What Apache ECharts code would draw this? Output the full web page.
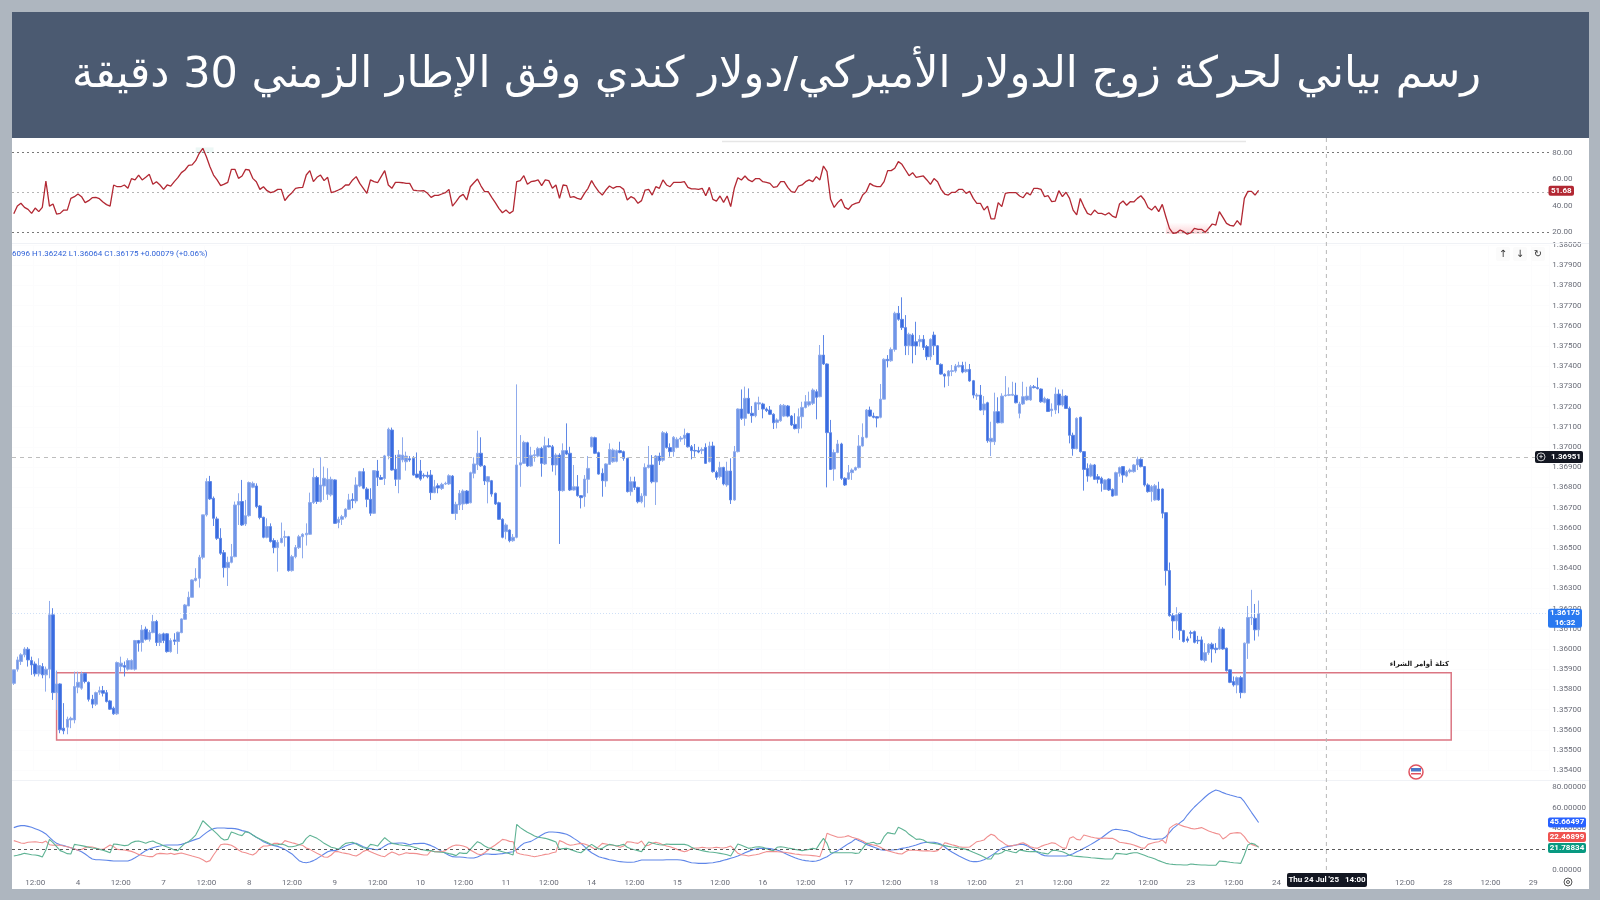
<!DOCTYPE html>
<html lang="ar">
<head>
<meta charset="utf-8">
<script src="https://cdn.jsdelivr.net/npm/echarts@6/dist/echarts.min.js"></script>
<style>
html, body { margin: 0; padding: 0; background: #aeb6bf; }
#paper { position: absolute; left: 12px; top: 12px; width: 1577px; height: 877px; background: #fff; }
#chart { position: absolute; left: 0; top: 0; width: 1600px; height: 900px; }
</style>
</head>
<body>
<div id="paper"></div>
<div id="chart"></div>
<script>
const titleText = 'رسم بياني لحركة زوج الدولار الأميركي/دولار كندي وفق الإطار الزمني 30 دقيقة';
const zoneLabel = 'كتلة أوامر الشراء';
const ohlcLegend = '6096 H1.36242 L1.36064 C1.36175 +0.00079 (+0.06%)';

// every 12th bar has a label on the time axis, the first one on bar 6
const timeTicks = ['12:00','4','12:00','7','12:00','8','12:00','9','12:00','10','12:00','11','12:00','14','12:00','15','12:00','16','12:00','17','12:00','18','12:00','21','12:00','22','12:00','23','12:00','24','12:00','25','12:00','28','12:00','29'];
const barCount = 431;

const lastPrice = 1.36175;
const cursorPrice = 1.36951;
const cursorBar = 368;
const zoneTop = 1.35883;
const zoneBottom = 1.3555;
const zoneFirstBar = 12;
const zoneLastBar = 403;

// [open, close, low, high]
const candlesA = [
[1.3583,1.35897,1.35822,1.35897],[1.359,1.35946,1.35888,1.35962],[1.35938,1.35971,1.35921,1.35979],[1.35971,1.36,1.35959,1.36009],[1.35999,1.35946,1.35913,1.36009],
[1.35943,1.35921,1.35872,1.35962],[1.35926,1.35877,1.35864,1.35938],[1.35877,1.35918,1.35864,1.35954],[1.35913,1.35872,1.35855,1.3593],[1.35872,1.359,1.35789,1.35913],
[1.359,1.36169,1.35855,1.36238],[1.36169,1.35784,1.35748,1.36202],[1.35784,1.35827,1.35698,1.35893],[1.35827,1.356,1.35583,1.3583],[1.35608,1.35595,1.35578,1.35732],
[1.35613,1.35652,1.35578,1.35665],[1.35649,1.35657,1.35608,1.35665],[1.35649,1.35814,1.35632,1.35888],[1.35811,1.35835,1.35781,1.35888],[1.35806,1.35877,1.35798,1.35888],
[1.3588,1.35839,1.3583,1.35883],[1.35835,1.35751,1.3574,1.35839],[1.35751,1.35727,1.35707,1.35773],[1.35727,1.35784,1.35718,1.35789],[1.35786,1.35794,1.35773,1.35814],
[1.35794,1.35781,1.35765,1.35817],[1.35784,1.3574,1.35735,1.35797],[1.35743,1.35702,1.35698,1.35748],[1.35707,1.35679,1.35674,1.35715],[1.35679,1.35933,1.35674,1.35938],
[1.35913,1.3593,1.35888,1.35962],[1.35918,1.3591,1.35864,1.35938],[1.359,1.35943,1.35893,1.35954],[1.359,1.35943,1.35897,1.35949],[1.359,1.36042,1.35893,1.36045],
[1.36042,1.36029,1.35987,1.36045],[1.36032,1.36094,1.35987,1.36119],[1.36098,1.36048,1.36042,1.36111],[1.36048,1.36083,1.36037,1.36094],[1.36081,1.36136,1.36078,1.36169],
[1.36136,1.36032,1.36015,1.36144],[1.36032,1.36073,1.36015,1.36078],[1.36075,1.36042,1.36029,1.36081],[1.36075,1.35987,1.35982,1.36078],[1.35987,1.36042,1.35982,1.36053],
[1.36045,1.36038,1.3602,1.36078],[1.36037,1.36083,1.35976,1.36086],[1.36081,1.36149,1.36078,1.36152],[1.36147,1.36218,1.36144,1.36223],[1.36213,1.36256,1.36213,1.36284],
[1.36256,1.36342,1.36256,1.36345],[1.36339,1.3635,1.36334,1.364],[1.3635,1.36454,1.36304,1.36466],[1.36454,1.36664,1.36444,1.36664],[1.36664,1.36829,1.36656,1.36845],
[1.36829,1.36743,1.36738,1.36857],[1.36746,1.36647,1.36609,1.36755],[1.36644,1.36548,1.3654,1.36655],[1.36548,1.36474,1.36466,1.36598],[1.36477,1.36403,1.36354,1.3649],
[1.36403,1.36429,1.36312,1.36457],[1.36429,1.36457,1.36424,1.3652],[1.36457,1.36713,1.36454,1.3673],[1.36713,1.3673,1.36614,1.36771],[1.3673,1.36614,1.36609,1.36837],
[1.36619,1.3666,1.36609,1.36738],[1.3666,1.36824,1.36655,1.36829],[1.36801,1.3682,1.36796,1.36829],[1.36807,1.36705,1.36697,1.3682],[1.36708,1.36651,1.36642,1.36713],
[1.36652,1.36553,1.36548,1.36655],[1.36553,1.36606,1.36548,1.36647],[1.36606,1.36532,1.36527,1.36622],[1.36537,1.36502,1.36474,1.36548],[1.36502,1.36528,1.36383,1.3654],
[1.36527,1.36548,1.36523,1.36626],[1.36553,1.36556,1.36507,1.36586],[1.36556,1.36388,1.36383,1.3656],[1.36388,1.36457,1.36383,1.36466],[1.36457,1.36502,1.36449,1.36515],
[1.36502,1.36556,1.36495,1.36565],[1.36556,1.36568,1.36449,1.36573],[1.36565,1.36573,1.36512,1.36622],[1.36568,1.36725,1.36565,1.36774],[1.36725,1.3685,1.36718,1.36895],
[1.36849,1.3673,1.36718,1.36857],[1.3673,1.36812,1.36725,1.36949],[1.36807,1.36845,1.36738,1.36903],[1.36766,1.3684,1.36738,1.36895],[1.36763,1.3684,1.36755,1.36853],
[1.36837,1.36622,1.36619,1.3684],[1.36626,1.36642,1.36598,1.36655],[1.36642,1.36655,1.36614,1.36664],[1.36655,1.36692,1.36647,1.36697],[1.36692,1.36738,1.36688,1.36768],
[1.36741,1.36735,1.36697,1.36771],[1.36733,1.36812,1.36721,1.3685],[1.36807,1.36878,1.36801,1.36882],[1.36878,1.36796,1.36791,1.36895],[1.36792,1.36741,1.36702,1.36801],
[1.36741,1.36672,1.36659,1.36796],[1.36672,1.36883,1.36669,1.36886],[1.36881,1.3685,1.36807,1.36936],[1.36849,1.3684,1.36837,1.36862],[1.36844,1.36956,1.36812,1.36961],
[1.36956,1.37088,1.36939,1.37096],[1.37084,1.36886,1.36883,1.37096],[1.3689,1.3684,1.36807,1.36961],[1.3684,1.36961,1.36771,1.36985]
];
const candlesB = [
[1.36936,1.3696,1.36924,1.37048],[1.36927,1.36955,1.36883,1.36977],[1.36942,1.36936,1.36927,1.36955],[1.36944,1.36861,1.36858,1.36955],[1.36866,1.3685,1.36845,1.36973],
[1.36881,1.36841,1.36833,1.36936],[1.3686,1.36856,1.36845,1.3687],[1.3686,1.36853,1.36845,1.36878],[1.36861,1.36774,1.36738,1.36886],[1.36774,1.36803,1.36771,1.36837],
[1.36808,1.36797,1.36771,1.3682],[1.36795,1.36815,1.36787,1.36823],[1.36817,1.3682,1.36812,1.36828],[1.36817,1.36858,1.36812,1.36865],[1.36856,1.36671,1.36668,1.36861],
[1.36671,1.36716,1.36639,1.36729],[1.36713,1.36771,1.36688,1.36787],[1.36718,1.36782,1.36688,1.3679],[1.36782,1.36721,1.36716,1.36787],[1.36724,1.36873,1.36721,1.36878],
[1.3687,1.36916,1.36845,1.36949],[1.36912,1.36969,1.36886,1.37081],[1.36969,1.36907,1.36902,1.37048],[1.36906,1.36832,1.36812,1.36911],[1.36828,1.36853,1.36721,1.36856],
[1.36833,1.36767,1.36754,1.36837],[1.36771,1.36718,1.36713,1.36774],[1.36724,1.36642,1.36639,1.36729],[1.36642,1.36553,1.36548,1.36647],[1.36581,1.36614,1.36543,1.36622],
[1.36589,1.36536,1.36528,1.36592],[1.36536,1.36553,1.36531,1.36569],[1.36553,1.36911,1.36548,1.3731],[1.36911,1.36922,1.36803,1.37059],[1.36919,1.37023,1.36916,1.37031],
[1.37021,1.36906,1.36902,1.37026],[1.36906,1.36959,1.36902,1.37001],[1.36957,1.36962,1.36927,1.36985],[1.36955,1.36993,1.36949,1.37001],[1.36993,1.36919,1.36853,1.37001],
[1.36916,1.37006,1.36911,1.37051],[1.37006,1.37001,1.36998,1.37043],[1.37001,1.36911,1.36878,1.3701],[1.36911,1.3696,1.3686,1.36969],[1.3696,1.36784,1.3652,1.36969],
[1.36784,1.36982,1.36779,1.37018],[1.36982,1.36965,1.3696,1.37117],[1.36969,1.36787,1.36782,1.37001],[1.36787,1.36803,1.36784,1.36911],[1.36803,1.36759,1.36754,1.36861],
[1.36759,1.36749,1.36696,1.36762],[1.36754,1.36841,1.36704,1.36861],[1.3684,1.36894,1.36771,1.36955],[1.37001,1.37048,1.36998,1.37051],[1.37046,1.36969,1.36965,1.37051],
[1.36972,1.36866,1.36863,1.36977],[1.3687,1.36833,1.36754,1.36894],[1.36832,1.36916,1.36803,1.36919],[1.36914,1.36988,1.36911,1.37018],[1.36927,1.36985,1.36922,1.36993],
[1.36929,1.36982,1.36924,1.36988],[1.36982,1.36972,1.36969,1.37026],[1.36977,1.36944,1.36932,1.36982],[1.36944,1.36779,1.36775,1.36947],[1.36779,1.36828,1.36759,1.36853],
[1.36828,1.368,1.36787,1.36853],[1.368,1.36729,1.36721,1.36803],[1.36729,1.36757,1.36721,1.36771],[1.36759,1.36899,1.36701,1.36919],[1.36898,1.36911,1.36894,1.37005],
[1.36911,1.36828,1.3682,1.3696],[1.36827,1.36955,1.36713,1.3696],[1.36955,1.36932,1.36911,1.36972],[1.36935,1.37071,1.36927,1.37079],[1.37067,1.36997,1.36992,1.37076],
[1.36997,1.36977,1.36952,1.37018],[1.36977,1.37048,1.36952,1.37054],[1.36998,1.37038,1.36993,1.37048],[1.37039,1.37044,1.37026,1.37054],[1.37043,1.37059,1.3701,1.37091],
[1.37067,1.37001,1.36997,1.37071],[1.37001,1.36982,1.36939,1.3701],[1.36983,1.3698,1.36952,1.37015],[1.36982,1.36975,1.36969,1.37001],[1.36982,1.36988,1.36965,1.36998],
[1.36998,1.36919,1.36916,1.37018],[1.36927,1.37005,1.36924,1.37026],[1.37005,1.36878,1.36873,1.37026],[1.36874,1.3685,1.36837,1.36883],[1.36853,1.36899,1.36845,1.36927],
[1.36899,1.36817,1.3681,1.36902],[1.36812,1.36881,1.36803,1.36927],[1.36881,1.36738,1.36718,1.36944],[1.36738,1.36977,1.36734,1.37005],[1.36977,1.37188,1.36973,1.37191],
[1.37188,1.37142,1.37134,1.37285],[1.37142,1.37241,1.37105,1.37299],[1.37241,1.37167,1.37163,1.3729],[1.37167,1.37155,1.3712,1.37203],[1.37155,1.37219,1.37147,1.37224],
[1.37213,1.37219,1.37183,1.37249],[1.37213,1.37188,1.37142,1.37219],[1.37188,1.3718,1.37173,1.37196],[1.37183,1.37162,1.37158,1.37203],[1.37162,1.3712,1.37089,1.37167],
[1.37122,1.37134,1.37092,1.37142],[1.3713,1.37206,1.37125,1.37213],[1.37153,1.37206,1.37148,1.37213],[1.37203,1.37153,1.37147,1.37208],[1.37153,1.37109,1.37104,1.37158],
[1.37112,1.37091,1.37087,1.37167],[1.37091,1.3715,1.37068,1.37191]
];
const candlesC = [
[1.3715,1.37196,1.37092,1.37224],[1.37196,1.37224,1.37191,1.37257],[1.37208,1.37224,1.372,1.37274],[1.37216,1.37282,1.37208,1.3729],[1.37274,1.37246,1.37137,1.37285],
[1.37249,1.37455,1.37246,1.37505],[1.37455,1.37411,1.37406,1.37554],[1.37411,1.37071,1.368,1.37414],[1.37071,1.36889,1.36886,1.37134],[1.36891,1.36973,1.36833,1.36988],
[1.36973,1.37015,1.36969,1.37035],[1.37015,1.36845,1.36837,1.37021],[1.36845,1.36812,1.36807,1.3685],[1.36841,1.36873,1.36837,1.36911],[1.36873,1.36886,1.36837,1.36894],
[1.36886,1.36898,1.36883,1.36903],[1.36898,1.37005,1.36894,1.37059],[1.37005,1.37048,1.37002,1.37117],[1.37048,1.37183,1.37043,1.37188],[1.37183,1.37153,1.3715,1.372],
[1.37153,1.37147,1.37142,1.3717],[1.3715,1.37143,1.37097,1.37153],[1.37147,1.37237,1.37142,1.37312],[1.37237,1.37434,1.37236,1.37439],[1.37434,1.37427,1.37394,1.37455],
[1.37427,1.37483,1.37422,1.37493],[1.37483,1.37662,1.37472,1.3767],[1.37662,1.37632,1.37625,1.37698],[1.37632,1.37591,1.37579,1.37741],[1.37591,1.37501,1.37455,1.37653],
[1.37501,1.37558,1.37455,1.37566],[1.37554,1.375,1.37414,1.37563],[1.37521,1.375,1.37455,1.3762],[1.37521,1.37533,1.37497,1.37554],[1.37533,1.37493,1.3748,1.37554],
[1.37497,1.37447,1.3743,1.37505],[1.37447,1.37533,1.3743,1.37538],[1.37554,1.37501,1.37455,1.37571],[1.37501,1.37409,1.37406,1.37505],[1.37409,1.37361,1.37358,1.37414],
[1.3736,1.37351,1.37295,1.37365],[1.37351,1.37376,1.37302,1.37381],[1.37374,1.37378,1.37351,1.37406],[1.37376,1.37401,1.37368,1.37411],[1.37397,1.37404,1.37394,1.37422],
[1.37404,1.37371,1.37365,1.37422],[1.37373,1.37384,1.37368,1.37422],[1.37384,1.37327,1.37323,1.37411],[1.37328,1.37257,1.37241,1.37332],[1.37252,1.37257,1.37233,1.37266],
[1.37257,1.37183,1.3718,1.37307],[1.37183,1.37213,1.37158,1.37252],[1.37219,1.37031,1.37021,1.37224],[1.37026,1.37043,1.36955,1.37125],[1.37026,1.37175,1.3701,1.37269],
[1.37175,1.3712,1.37117,1.37246],[1.3712,1.37252,1.37117,1.37266],[1.37254,1.37257,1.37249,1.37351],[1.37256,1.37259,1.37252,1.37295],[1.37256,1.37261,1.37252,1.37323],
[1.37256,1.37219,1.37216,1.37318],[1.37167,1.37213,1.37142,1.37224],[1.37213,1.37249,1.37208,1.37323],[1.37233,1.37252,1.37229,1.37298],[1.37233,1.37298,1.37229,1.37307],
[1.37298,1.37294,1.3729,1.37307],[1.37294,1.37289,1.37285,1.37343],[1.37287,1.37224,1.37219,1.3729],[1.37221,1.37241,1.37216,1.37249],[1.37236,1.37176,1.37173,1.37241],
[1.3718,1.37188,1.3715,1.37216],[1.37183,1.37262,1.37163,1.37295],[1.37262,1.37208,1.37167,1.37285],[1.37208,1.37252,1.372,1.37285],[1.37252,1.37191,1.37188,1.37257],
[1.37191,1.37058,1.37018,1.372],[1.37058,1.36992,1.36957,1.37071],[1.36992,1.37142,1.36988,1.37147],[1.37147,1.36977,1.36972,1.3715],[1.36977,1.36889,1.36784,1.3698],
[1.36894,1.36856,1.36828,1.36919],[1.36856,1.36911,1.3685,1.36919],[1.36911,1.3684,1.36837,1.36916],[1.36853,1.3684,1.3682,1.36866],[1.36845,1.3682,1.36779,1.36853],
[1.3679,1.36837,1.36787,1.3684],[1.36841,1.36787,1.36782,1.36845],[1.3679,1.36757,1.36754,1.36795],[1.36761,1.36873,1.36757,1.36878],[1.3687,1.36898,1.36853,1.36903],
[1.36903,1.36861,1.36823,1.36906],[1.36856,1.36878,1.3685,1.36886],[1.36878,1.36886,1.3687,1.36894],[1.36878,1.36911,1.36873,1.36916],[1.36911,1.36939,1.36886,1.36952],
[1.36939,1.36903,1.36899,1.36944],[1.36903,1.36812,1.36804,1.36906],[1.36812,1.36779,1.36774,1.3682],[1.36779,1.36804,1.36729,1.36812],[1.36738,1.36808,1.36734,1.36817],
[1.36792,1.36738,1.36734,1.36828],[1.36792,1.36672,1.36647,1.36795]
];
const candlesD = [
[1.36675,1.36388,1.36314,1.36675],[1.36388,1.36165,1.3616,1.36428],[1.36165,1.36139,1.36053,1.36177],[1.36139,1.36169,1.36095,1.36207],[1.36177,1.36091,1.36045,1.3618],
[1.36091,1.36037,1.36032,1.36095],[1.3605,1.36042,1.36032,1.36062],[1.36081,1.36078,1.36053,1.36091],[1.36086,1.36033,1.36028,1.36091],[1.36043,1.3604,1.36025,1.36065],
[1.36045,1.35946,1.35943,1.36062],[1.35943,1.35982,1.35934,1.36029],[1.35982,1.36024,1.35971,1.36029],[1.36024,1.36,1.35933,1.36032],[1.36004,1.35997,1.35979,1.36029],
[1.36,1.36099,1.35996,1.36111],[1.36099,1.36,1.35996,1.36108],[1.36004,1.35893,1.35888,1.36007],[1.35897,1.35835,1.35831,1.359],[1.35839,1.35822,1.35814,1.35864],
[1.35822,1.35858,1.35781,1.35864],[1.35858,1.35784,1.35756,1.35867],[1.35784,1.36029,1.35781,1.36032],[1.36029,1.36156,1.35951,1.36213],[1.36154,1.36157,1.36119,1.36293],
[1.36152,1.36095,1.36042,1.36223],[1.36095,1.36175,1.36062,1.3624]
];

const rsiA = [34,39.8,41.9,38.8,37.3,34.3,38.3,35.6,38.8,58.7,39.8,41.4,33.8,34.3,36.8,36.8,45.6,46.9,48.9,46.9,42.4,43.9,46.1,46.4,45.4,42.9,40.9,39.8,55.7,54.4,54.4,55.7,53.2,60.5,59.5,63.2,59.5,61.5,63.7,56.2,58.2,55.7,52.4,55.7,54.9,58.2,61.2,65,67,70.5,70.8,74,79.6,83.3,77,69.5,63.2,59.5,55.2,56.4,57.7,67.5,67.5,60.7,62.5,67.5,67,60.7,58.2,52.4,54.4,51.4,49.9,50.7,52.4,52.4,43.9,47.4,49.9,53.2,53.7,53.9,63.2,66.5,58.2,61.5,63.2,59,61.5,49.9,50.7,51.9,53.2,55.7,55.7,59.5,62,56.9,53.2,49.4,59.5,58.2,57.4,62,66.5,55.7,53.2,57.7,57.7,57.4,56.9,56.9,51.9,51.4,51.2,51.4,49.4,46.4,47.9,47.9,48.9,49.9,52.4,39.8,43.1,46.9,48.6,44.4,54.4,57.4,60.2,54.9,50.7,50.7,46.4,42.4,38.1,34.8,36.8,34.3,36.1,58.2,59,62.7,56.2,58.2,58.7,59.5,55.2,59.5,59,53.2,55.7,45.6,55.7,55.2,46.4,46.9,45.6,44.9,49.4,53.2,59,54.4,50.7,48.1,51.9,54.9,53.2,54.4,54.4,52.4,44.4,46.9,45.6,41.9,43.9,51.9,52.4,48.1,54.4,53.2,59.5,55.7,54.4,57.7,57.7,57.7,58.2,53.9,52.7,52.7,52.4,53.2,47.6,53.9,44.9,43.6,47.4,42.6,47.4,39.4,53.2,61.2,59.5,62.5,59.5,58.2,60.5,60.5,58.2,57.7,56.9,53.9,54.4,58.2,58.2,53.9,50.7,50.2,54.9];
const rsiB = [55.7,58.2,59.5,58.2,62,59.5,70,65.7,44.9,38.8,42.4,44.9,38.8,37.3,40.6,41.9,42.6,48.1,50.7,56.9,55.2,54.4,54.4,58.2,66.5,66.5,68.3,73.3,71.3,67,62.7,65,61.5,62,62.5,59.5,56.2,60.5,58.2,52.4,48.9,48.1,50.2,50.2,52.4,52.4,49.4,50.9,45.6,41.9,41.9,36.8,39.8,30.1,30.1,42.4,39.4,49.4,49.9,49.9,49.9,47.4,46.1,49.9,48.1,53.2,53.2,52.4,46.9,47.6,43.1,43.6,51.4,46.9,50.2,45.6,36.8,33.1,45.6,39.4,34.3,33.1,36.8,34.3,34.3,33.1,34.8,32.3,31.1,41.4,43.6,40.4,43.1,42.9,45.6,47.6,44.4,38.8,36.8,39.8,35.6,41.1,31.8,23,19.2,19.7,21.8,20.5,18.7,19.7,23,22.3,22.3,20,23,26.3,25.5,35.6,31.3,26.8,25.3,24.8,28.8,25.5,45.6,50.9,50.9,48.1,51.68];

const adxA = [40.7,41.9,42.6,42.6,41.9,41,39.7,38.4,36.8,34.6,31.4,28.2,25.6,24.3,23.4,22.4,21.4,20.2,18.9,17.6,15.4,12.8,10.6,9.9,9.9,9.6,9.3,9,8.6,8.6,8.6,8.6,8.6,9.9,11.8,13.8,16.3,18.6,20.2,21.4,22.4,23,23.7,24,24,24,24,24.6,25.6,26.9,28.2,29.4,30.4,33.3,35.9,38.1,39.7,40.3,40.3,40.3,40,40,39.7,39,37.8,37.1,35.9,33.6,31.4,29.4,27.2,25.6,24.3,23.4,22.7,21.4,19.8,17.6,15.4,12.2,9,7.4,7,7.7,9,10.9,13.1,15.4,17.6,18.6,18.6,19.8,21.4,23,24.3,25.3,25.6,24,22.4,21.1,20.5,19.8,19.5,20.8,23,25,25.6,25.6,25.9,25.9,25.3,24.3,25.3,25.3,25.6,25.6,24.6,23.4];
const adxB = [21.8,19.8,17.9,16,14.1,12.8,12.5,12.5,12.2,11.8,11.5,11.5,12.5,14.1,15.4,15.4,15,15,15.4,15.7,16.3,17,17.6,19.8,23,25.6,26.6,27.5,29.4,31.4,33.6,35.5,36.5,36.5,36.2,35.9,35.2,34.3,32.7,30.4,28.2,25.6,22.4,19.2,16.6,14.7,12.8,11.8,10.9,9.9,9.3,8.6,8,7.7,7.4,7.4,7.7,8.6,9.6,9.6,9.6,9.6,9.6,9.6,9.6,9.9,9.9,9.9,9.9,9.6,9,8,7,6.7,6.4,6.4,6.4,6.7,7,7.7,8.3,9.3,10.2,11.2,12.2,13.4,15,16.6,17.9,19.2,20.2,20.8,20.8,20.8,20.5,19.8,19.2,17.9,16.3,14.7,13.1,11.8,10.6,9.6,9,8.6,8.3,8.6,9.6,11.2,12.8,15,17,18.6,20.8,23,25.3,27.2];
const adxC = [29.8,28.2,26.6,24.6,23.4,22.1,20.8,19.5,18.9,18.9,19.2,19.5,19.8,20.8,21.4,22.1,23,24,25.3,26.2,26.6,26.6,26.6,25.9,24.6,22.1,19.5,17.3,15.4,13.4,11.8,10.2,8.6,8,8,8.6,9.9,11.5,13.8,16,18.6,20.8,22.1,22.7,23.4,24,24.6,24.6,23.4,21.4,19.2,17,15,13.8,13.4,13.4,13.4,13.4,13.4,13.4,14.4,15.7,17.6,18.9,20.8,22.7,24.6,26.6,28.8,31,33.6,36.2,38.4,39.1,38.7,38.1,37.8,36.8,35.2,33.6,32.3,31.4,30.4,29.8,29.4,29.8,29.8,32,35.9,40,42.6,45.5,48,52.8,56.7,60.5,63.7,66.9,70.1,73,75.2,76.8,75.9,74.3,73,72,71.1,70.1,69.5,65.6,60.5,55.4,50.6,45.66];

const minusDiA = [28.2,27.2,25.9,25.6,26.6,26.9,27.2,26.6,26.2,27.8,24.3,23.7,24,23.7,23,22.4,21.4,20.2,18.9,19.8,21.4,22.4,22.1,21.1,20.2,19.8,21.8,24,22.4,19.8,19.5,19.2,18.6,17.9,16.6,15,14.1,13.4,12.8,12.8,15.4,16,15.7,15.4,16,15,15.7,16.3,15.4,14.4,13.4,12.5,11.5,9.9,7.7,9,14.4,19.2,24.3,25,24.6,23.7,21.8,19.2,17.3,16.6,15.4,14.4,16.6,20.8,23,23,23.7,25.6,25.6,24.3,28.2,27.2,26.2,25.3,24.3,23.7,21.1,19.8,17.9,16,14.4,12.5,12.2,14.4,17.6,17.6,16.6,16,15.4,14.1,13.4,15.4,17.9,19.2,17.6,16,14.7,13.4,12.8,15.4,17.3,16,14.4,15.4,16.6,16,16,15.7,15,14.4,14.4,18.6];
const minusDiB = [17.6,17.6,17.6,18.6,21.1,23,24,23.7,23,21.8,19.2,17.3,15.4,14.7,16.6,19.2,21.8,24,26.6,29.4,28.8,27.5,27.2,16.6,15.4,14.7,14.1,13.4,12.8,13.4,14.1,15,15.4,16.6,17.3,28.2,26.9,25,23.7,24.3,25,25.6,25,23.7,21.8,19.8,22.4,25.6,25,24.3,23.7,23,21.8,23,27.2,26.9,26.2,25.6,27.8,23,23.7,25.6,26.6,25.6,24.3,23,22.4,21.1,19.8,18.6,17.6,18.6,20.5,21.1,21.1,21.8,21.4,21.1,21.4,21.8,21.4,21.1,21.8,23,19.8,16,14.7,14.1,13.4,14.1,14.7,15.4,16.6,17.6,17.6,17.6,17.6,17.3,17,16.6,16,15.4,15,14.4,14.4,14.1,13.8,13.4,12.8,22.4,35.2,33.9,32.7,31.4,31.4,32,33,31.4];
const minusDiC = [30.4,29.4,27.8,25.9,24.6,24,23.4,21.8,19.8,18.6,17.6,16.6,15.7,15.4,17.6,19.2,18.9,18.9,18.6,18.2,18.6,18.2,17.9,18.6,21.4,26.2,25.3,24.3,23.4,22.4,21.8,21.8,22.1,24.6,27.2,27.8,28.8,32,34.3,33,29.4,27.2,24.6,23,23.4,24,25.3,26.2,24.6,22.4,21.4,20.8,22.7,24,25,26.2,25.6,23.4,21.4,20.8,30.4,32,29.4,28.8,33.6,32.7,31.7,31,30.4,30.4,30.7,30.4,30.4,28.8,26.6,26.2,25.6,25,24,22.7,21.4,20.8,24.6,25.6,26.6,27.2,28.8,25.6,40,42.6,44.5,43.2,41.9,41,40,39.4,40,40.7,39.1,37.5,36.2,35.2,34.3,29.8,32,34.9,35.5,35.9,35.5,32,27.2,24.6,23.4,22.47];

const plusDiA = [13.4,14.1,15,16,15.4,14.7,14.4,13.8,12.5,19.2,29.4,26.2,22.4,18.6,17.3,15.7,15.4,24.6,24,23.4,22.7,21.8,21.1,20.8,19.8,18.9,17.9,16.6,25,24.6,24,23.4,23.7,26.2,27.5,27.8,26.9,25.6,27.2,27.8,26.2,25,23.4,22.1,20.8,19.2,18.6,22.4,25.6,27.2,30.1,33.6,40,47.4,44.2,41,37.8,34.6,31,28.8,29.4,36.5,35.2,33.9,33,36.8,35.9,33.6,31.4,29.8,28.2,26.6,25,24,24.3,25,24,22.4,22.4,23,24.3,25.6,30.4,33.3,32,30.4,28.2,25.6,23.7,21.8,21.1,19.8,23,25.6,26.2,26.6,25,23,21.4,20.8,24.6,24,23,27.2,31,28.2,25.6,25,24.3,23.7,23.4,23,22.1,21.1,19.8,19.2,18.6,18.6];
const plusDiB = [17.6,17.3,17,16.6,15.7,15,13.8,16.6,16,16,19.8,23.7,27.2,25.6,23,21.4,20.5,19.5,18.6,17.6,16.6,15.7,14.4,43.9,40.7,38.4,36.2,34.6,32.7,31.4,31,30.4,29.4,28.2,26.9,19.8,20.5,20.8,19.8,18.6,17.3,16.6,19.2,22.4,24.6,22.4,20.2,20.8,23,24.6,24,23,23.7,24.6,21.8,20.5,19.5,18.6,17.6,22.4,26.9,25.9,25,24.3,24,25,24.6,24.6,24.6,24.6,24.6,23.7,21.8,20.2,19.5,18.6,17.9,17.3,17,16.6,16,15.4,14.7,13.4,19.2,25,23.7,22.4,20.8,21.4,22.1,22.4,21.8,20.5,19.2,18.6,21.8,22.4,21.8,21.1,20.5,19.8,19.2,18.6,19.2,19.8,20.8,20.2,25.6,30.4,25.6,16.6,16.6,16.6,16.6,16.6,16.6,16.6];
const plusDiC = [16,16.3,20.8,25.3,25.9,26.6,25,25.6,32,35.9,35.2,34.6,41,39.4,37.5,34.3,32,29.4,29.8,28.8,26.6,25.9,25.6,25,24,23.4,22.7,22.1,21.8,21.1,20.5,19.8,18.6,17,15.7,14.1,12.5,10.6,10.6,15.7,15.4,16.6,18.9,18.2,17.3,16.6,19.2,18.6,17.9,17.6,17.6,17.6,16.6,16,15.4,18.6,18.9,18.2,17.6,16,14.1,13.4,13.1,12.8,12.5,12.2,11.8,11.5,11.2,10.9,10.6,10.6,10.6,16,15.7,15.4,15,16,16.6,16.6,15.4,14.1,12.8,11.8,10.6,9,7.7,6.4,5.8,5.4,5.1,5.1,4.8,4.8,5.8,5.4,5.1,4.8,4.8,4.5,4.5,4.5,8.6,8.3,8,7.4,7,6.7,6.4,14.4,24,25.6,24.6,21.79];

const candleData = candlesA.concat(candlesB, candlesC, candlesD);
const rsiData = rsiA.concat(rsiB);
const adxData = adxA.concat(adxB, adxC);
const minusDiData = minusDiA.concat(minusDiB, minusDiC);
const plusDiData = plusDiA.concat(plusDiB, plusDiC);

const categories = [];
for (let i = 0; i < barCount; i++) {
    categories.push(i % 12 === 6 ? timeTicks[(i - 6) / 12] : '');
}

const axisFont = 'Roboto, "Liberation Sans", sans-serif';
const axisGrey = '#6a6d78';
const isLabelledBar = (index) => index % 12 === 6;

const xAxisFor = (gridIndex, withLabels) => ({
    type: 'category',
    gridIndex: gridIndex,
    data: categories,
    axisLine: { show: false },
    axisTick: { show: false },
    axisLabel: {
        show: withLabels,
        interval: isLabelledBar,
        margin: 9,
        color: axisGrey,
        fontSize: 8,
        fontFamily: axisFont,
    },
    splitLine: { show: gridIndex === 1, interval: isLabelledBar, lineStyle: { color: '#fcfcfd' } },
});

const yAxisFor = (gridIndex, min, max, interval, digits, hidden) => ({
    type: 'value',
    gridIndex: gridIndex,
    position: 'right',
    min: min,
    max: max,
    interval: interval,
    scale: true,
    axisLine: { show: false },
    axisTick: { show: false },
    axisLabel: {
        margin: 3,
        padding: [2, 0, 0, 0],
        color: axisGrey,
        fontSize: 8,
        fontFamily: axisFont,
        formatter: (v) => (hidden.indexOf(v) !== -1 ? '' : v.toFixed(digits)),
    },
    splitLine: { show: gridIndex === 1, lineStyle: { color: '#fcfcfd' } },
});

const hLine = (value, color, type) => ({
    yAxis: value,
    lineStyle: { color: color, type: type, width: 1 },
});

const thinLine = (name, data, color) => ({
    name: name,
    type: 'line',
    xAxisIndex: 2,
    yAxisIndex: 2,
    data: data,
    symbol: 'none',
    lineStyle: { color: color, width: 1.1 },
});

const chart = echarts.init(document.getElementById('chart'));

chart.setOption({
    animation: false,
    backgroundColor: 'transparent',
    textStyle: { fontFamily: axisFont },
    title: {
        text: titleText,
        left: 67,
        top: 49,
        z: 60,
        textStyle: { color: '#ffffff', fontSize: 43, fontWeight: 'normal', fontFamily: '"DejaVu Sans", sans-serif' },
    },
    grid: [
        { left: 12, width: 1537.3, top: 126.2, height: 132.7 },
        { left: 12, width: 1537.3, top: 245, height: 525.2 },
        { left: 12, width: 1537.3, top: 786.7, height: 83.3 },
    ],
    xAxis: [xAxisFor(0, false), xAxisFor(1, false), xAxisFor(2, true)],
    yAxis: [
        yAxisFor(0, 0, 100, 20, 2, [0, 100]),
        yAxisFor(1, 1.354, 1.38, 0.001, 5, []),
        yAxisFor(2, 0, 80, 20, 5, []),
    ],
    series: [
        {
            name: 'RSI',
            type: 'line',
            xAxisIndex: 0,
            yAxisIndex: 0,
            data: rsiData,
            symbol: 'none',
            z: 5,
            lineStyle: { color: '#b22833', width: 1.3 },
            markLine: {
                silent: true,
                symbol: 'none',
                label: { show: false },
                data: [hLine(80, '#777777', [2, 3]), hLine(50, '#b5b5b5', [2, 3]), hLine(20, '#777777', [2, 3])],
            },
            markArea: {
                silent: true,
                data: [
                    [{ xAxis: 323, yAxis: 27.5, itemStyle: { color: { type: 'linear', x: 0, y: 0, x2: 0, y2: 1, colorStops: [{ offset: 0, color: 'rgba(242,54,69,0)' }, { offset: 1, color: 'rgba(242,54,69,0.22)' }] } } }, { xAxis: 335, yAxis: 19 }],
                    [{ xAxis: 51, yAxis: 84, itemStyle: { color: 'rgba(8,153,129,0.08)' } }, { xAxis: 56, yAxis: 80 }],
                ],
            },
        },
        {
            name: 'USDCAD',
            type: 'candlestick',
            xAxisIndex: 1,
            yAxisIndex: 1,
            data: candleData,
            barWidth: 3,
            itemStyle: {
                color: '#7096e8',
                color0: '#3a6ce0',
                borderColor: '#8fabec',
                borderColor0: '#5f88e6',
                borderWidth: 1,
            },
            markLine: {
                silent: true,
                symbol: 'none',
                precision: 5,
                label: { show: false },
                data: [hLine(lastPrice, '#cfe0f7', [1, 2]), hLine(cursorPrice, '#bdbdbd', [4, 4])],
            },
            markArea: {
                silent: true,
                label: {
                    show: true,
                    position: 'insideTopRight',
                    offset: [2, -16],
                    color: '#1a1a1a',
                    fontSize: 7,
                    fontWeight: 'bold',
                    fontFamily: '"DejaVu Sans", sans-serif',
                },
                itemStyle: { color: 'rgba(255,255,255,0)', borderColor: '#db7683', borderWidth: 1.5 },
                data: [[
                    { name: zoneLabel, xAxis: zoneFirstBar, yAxis: zoneTop },
                    { xAxis: zoneLastBar, yAxis: zoneBottom },
                ]],
            },
        },
        Object.assign(thinLine('Reference', adxData, '#5f86e8'), {
            markLine: {
                silent: true,
                symbol: 'none',
                label: { show: false },
                data: [hLine(20, '#5a5a5a', [3, 3])],
            },
        }),
        thinLine('DI-', minusDiData, '#f08f8f'),
        thinLine('DI+', plusDiData, '#5fb394'),
    ],
});

// overlays that sit on the chart frame, placed once the scales are known
const pill = (x, y, w, h, fill, lines) => {
    const out = [{ type: 'rect', z: 50, shape: { x: x, y: y, width: w, height: h, r: 2 }, style: { fill: fill } }];
    lines.forEach((line, n) => {
        out.push({
            type: 'text', z: 51, x: x + w / 2, y: y + (n + 0.5) * h / lines.length,
            style: { text: line, fill: '#fff', font: 'bold 8px ' + axisFont, align: 'center', verticalAlign: 'middle' },
        });
    });
    return out;
};

const iconBtn = (x, glyph) => ([
    { type: 'rect', z: 50, shape: { x: x - 7, y: 247, width: 14, height: 14, r: 2 }, style: { fill: '#fbfbfb' } },
    { type: 'text', z: 51, x: x, y: 254, style: { text: glyph, fill: '#333', font: '10px "DejaVu Sans"', align: 'center', verticalAlign: 'middle' } },
]);

const cursorX = chart.convertToPixel({ xAxisIndex: 1 }, cursorBar);
const lastY = chart.convertToPixel({ yAxisIndex: 1 }, lastPrice);
const cursorY = chart.convertToPixel({ yAxisIndex: 1 }, cursorPrice);
const rsiY = chart.convertToPixel({ yAxisIndex: 0 }, rsiData[rsiData.length - 1]);
const adxY = chart.convertToPixel({ yAxisIndex: 2 }, adxData[adxData.length - 1]);

chart.setOption({
    graphic: [
        { type: 'rect', z: 40, shape: { x: 12, y: 12, width: 1577, height: 126 }, style: { fill: '#4b5a71' } },
        { type: 'line', z: 3, shape: { x1: 722, y1: 141.5, x2: 1246, y2: 141.5 }, style: { stroke: '#e6e6e6', lineWidth: 1.5 } },
        { type: 'line', z: 3, shape: { x1: 12, y1: 243.5, x2: 1589, y2: 243.5 }, style: { stroke: '#f0f2f6', lineWidth: 1 } },
        { type: 'line', z: 3, shape: { x1: 12, y1: 780.5, x2: 1589, y2: 780.5 }, style: { stroke: '#f0f2f6', lineWidth: 1 } },
        { type: 'line', z: 30, shape: { x1: cursorX, y1: 138, x2: cursorX, y2: 873 }, style: { stroke: '#b8b8b8', lineWidth: 1, lineDash: [4, 4] } },
        { type: 'text', z: 45, x: 12, y: 254, style: { text: ohlcLegend, fill: '#2f62d8', font: '8px ' + axisFont, verticalAlign: 'middle' } },
        ...iconBtn(1503, '↑'),
        ...iconBtn(1520, '↓'),
        ...iconBtn(1538, '↻'),
        ...pill(1548.5, rsiY - 4.5, 25.5, 10, '#b22833', ['51.68']),
        ...pill(1535, cursorY - 6, 48, 12, '#131722', ['']),
        { type: 'circle', z: 51, shape: { cx: 1541, cy: cursorY, r: 4 }, style: { fill: 'none', stroke: '#fff', lineWidth: 0.8 } },
        { type: 'text', z: 52, x: 1541, y: cursorY, style: { text: '+', fill: '#fff', font: '8px ' + axisFont, align: 'center', verticalAlign: 'middle' } },
        { type: 'text', z: 52, x: 1566, y: cursorY, style: { text: cursorPrice.toFixed(5), fill: '#fff', font: 'bold 8px ' + axisFont, align: 'center', verticalAlign: 'middle' } },
        ...pill(1548, lastY - 5, 34, 19, '#2a79f0', [lastPrice.toFixed(5), '16:32']),
        ...pill(1548, adxY - 5, 38, 10, '#2962ff', ['45.66497']),
        ...pill(1548, 832, 38, 10, '#ef5350', ['22.46899']),
        ...pill(1548, 843, 38, 10, '#089981', ['21.78834']),
        ...pill(1287, 873, 80, 14, '#131722', ["Thu 24 Jul '25   14:00"]),
        { type: 'circle', z: 50, shape: { cx: 1416, cy: 772, r: 7 }, style: { fill: '#fff', stroke: '#e0525f', lineWidth: 1.5 } },
        { type: 'rect', z: 51, shape: { x: 1411, y: 768, width: 10, height: 3.5 }, style: { fill: '#4a78c8' } },
        { type: 'rect', z: 51, shape: { x: 1411, y: 773, width: 10, height: 1.5 }, style: { fill: '#e0525f' } },
        { type: 'circle', z: 50, shape: { cx: 1568, cy: 882, r: 4 }, style: { fill: 'none', stroke: '#555', lineWidth: 1 } },
        { type: 'circle', z: 50, shape: { cx: 1568, cy: 882, r: 1.5 }, style: { fill: 'none', stroke: '#555', lineWidth: 1 } },
    ],
});
</script>
</body>
</html>
